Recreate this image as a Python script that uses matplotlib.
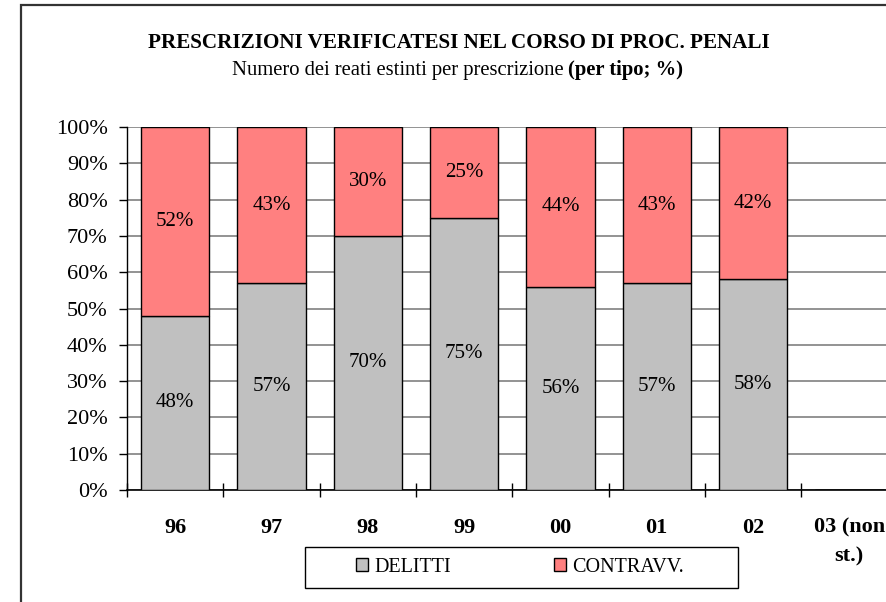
import matplotlib
matplotlib.use("Agg")
import matplotlib.pyplot as plt
from matplotlib.patches import Rectangle
import numpy as np

plt.rcParams['font.family'] = ['Liberation Serif', 'DejaVu Serif']

years = ['96', '97', '98', '99', '00', '01', '02', '03 (non\nst.)']
delitti = [48, 57, 70, 75, 56, 57, 58, np.nan]
contravv = [52, 43, 30, 25, 44, 43, 42, np.nan]
yticks = [0, 10, 20, 30, 40, 50, 60, 70, 80, 90, 100]

W, H = 887, 602
fig = plt.figure(figsize=(W / 100, H / 100), dpi=100)
fig.patch.set_facecolor('white')

# axes box in pixels (right side runs off the picture, as in the original)
ax_l, ax_r, ax_t, ax_b = 127, 897.5, 127, 490
ax = fig.add_axes([ax_l / W, 1 - ax_b / H, (ax_r - ax_l) / W, (ax_b - ax_t) / H])

x = np.arange(len(years)) + 0.5
d = np.nan_to_num(delitti)
c = np.nan_to_num(contravv)
grey = '#c0c0c0'
pink = '#ff8080'
b1 = ax.bar(x, d, width=0.71, color=grey, edgecolor='black', linewidth=1, zorder=3, label='DELITTI')
b2 = ax.bar(x, c, bottom=d, width=0.71, color=pink, edgecolor='black', linewidth=1, zorder=3, label='CONTRAVV.')

for i in range(len(years)):
    if np.isnan(delitti[i]):
        continue
    ax.text(x[i], d[i] / 2, f"{delitti[i]}%", ha='center', va='center', fontsize=15, zorder=4)
    ax.text(x[i], d[i] + c[i] / 2, f"{contravv[i]}%", ha='center', va='center', fontsize=15, zorder=4)

ax.set_xlim(0, len(years))
ax.set_ylim(0, 100)
ax.set_yticks(yticks)
ax.set_yticklabels([f"{v}%" for v in yticks], fontsize=16)
ax.yaxis.grid(True, color='#808080', linewidth=1.2, zorder=0)
ax.set_xticks(x)
ax.set_xticklabels(years, fontsize=16, fontweight='bold', linespacing=1.55)
ax.set_xticks(np.arange(len(years) + 1), minor=True)
ax.tick_params(axis='x', which='major', length=0, pad=20)
ax.tick_params(axis='x', which='minor', direction='inout', length=10, width=1)
ax.tick_params(axis='y', direction='out', length=6, width=1, pad=8)
for s in ['top', 'right']:
    ax.spines[s].set_visible(False)
ax.spines['left'].set_linewidth(1)
ax.spines['bottom'].set_linewidth(1.2)

# outer frame of the chart area
fig.patches.append(Rectangle((21.5 / W, -0.1), 1.2, 1 - 5.3 / H + 0.1, transform=fig.transFigure,
                             fill=False, edgecolor='#333333', linewidth=1.6))

fig.text(459 / W, 1 - 43 / H, "PRESCRIZIONI VERIFICATESI NEL CORSO DI PROC. PENALI",
         ha='center', va='center', fontsize=15.2, fontweight='bold')
fig.text(564 / W, 1 - 70 / H, "Numero dei reati estinti per prescrizione",
         ha='right', va='center', fontsize=14.9)
fig.text(568 / W, 1 - 70 / H, "(per tipo; %)",
         ha='left', va='center', fontsize=14.9, fontweight='bold')

# legend box
fig.patches.append(Rectangle((305 / W, 1 - 588 / H), 433 / W, 41 / H, transform=fig.transFigure,
                             fill=False, edgecolor='black', linewidth=1))
fig.legend(handles=[b1, b2], loc='center', bbox_to_anchor=(520 / W, 1 - 567 / H), ncol=2,
           frameon=False, fontsize=14.5, handlelength=0.6, handleheight=0.6,
           handletextpad=0.3, columnspacing=5.1, borderpad=0)

fig.savefig('out.png', dpi=100)
